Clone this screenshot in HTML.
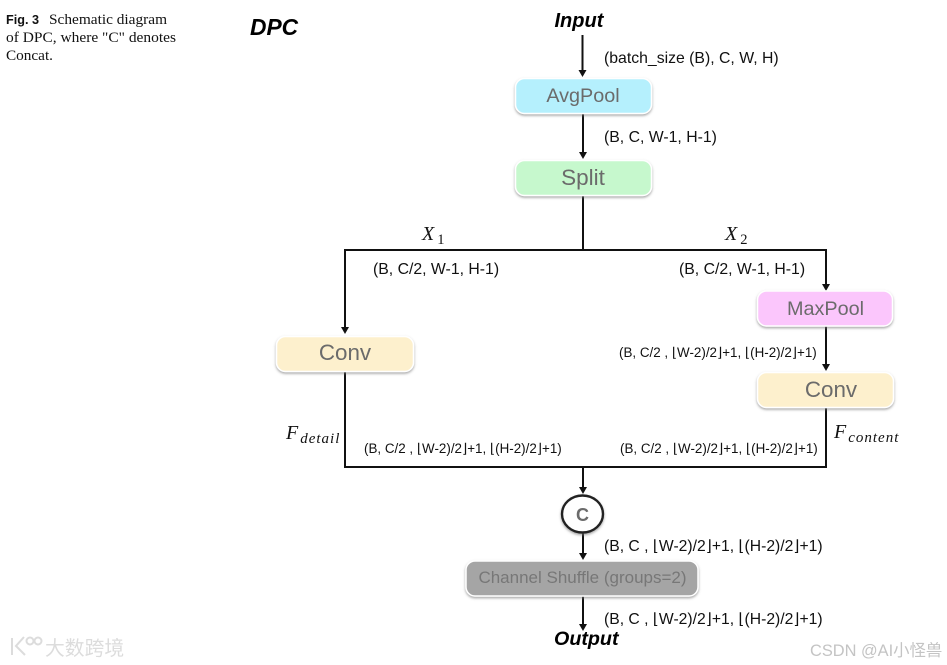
<!DOCTYPE html>
<html>
<head>
<meta charset="utf-8">
<style>
html,body{margin:0;padding:0;background:#fff;width:947px;height:665px;overflow:hidden}
svg{display:block}
text{font-family:"Liberation Sans",sans-serif;fill:#111}
.s{font-family:"Liberation Serif",serif}
.box{stroke:#fff;stroke-width:1.5}
.lab{fill:#6b6b6b}
.ln{stroke:#111;stroke-width:2;fill:none}
.it{font-family:"Liberation Serif",serif;font-style:italic;fill:#111}
.bi{font-weight:bold;font-style:italic;fill:#000}
</style>
</head>
<body>
<svg width="947" height="665" viewBox="0 0 947 665" xmlns="http://www.w3.org/2000/svg">
<defs>
<filter id="sh" x="-10%" y="-20%" width="120%" height="150%">
<feDropShadow dx="0" dy="1.5" stdDeviation="1.2" flood-color="#777" flood-opacity="0.65"/>
</filter>
</defs>
<rect width="947" height="665" fill="#fff"/>

<!-- caption -->
<text x="6" y="24" font-size="13" font-weight="bold" textLength="33" lengthAdjust="spacingAndGlyphs">Fig. 3</text>
<text class="s" x="49" y="24" font-size="14.2" textLength="118" lengthAdjust="spacingAndGlyphs">Schematic diagram</text>
<text class="s" x="6" y="42" font-size="14.2" textLength="170" lengthAdjust="spacingAndGlyphs">of DPC, where "C" denotes</text>
<text class="s" x="6" y="60" font-size="14.2" textLength="47" lengthAdjust="spacingAndGlyphs">Concat.</text>
<text class="bi" x="250" y="35" font-size="22.8">DPC</text>

<!-- connectors -->
<g class="ln">
<path d="M582.5 35V71"/>
<path d="M583 113V153"/>
<path d="M583 196V250"/>
<path d="M345 328V250H826V285"/>
<path d="M826 326V365"/>
<path d="M345 372V467H826V407"/>
<path d="M583 467V489"/>
<path d="M583 533V554"/>
<path d="M583 596V625"/>
</g>
<g fill="#111">
<path d="M578.5 70h8l-4 7z"/>
<path d="M579 152h8l-4 7z"/>
<path d="M341 327h8l-4 7z"/>
<path d="M822 284h8l-4 7z"/>
<path d="M822 364h8l-4 7z"/>
<path d="M579 487h8l-4 7z"/>
<path d="M579 553h8l-4 7z"/>
<path d="M579 624h8l-4 7z"/>
</g>

<!-- nodes -->
<g filter="url(#sh)">
<rect class="box" x="515.5" y="78.5" width="136" height="35" rx="9" fill="#b5f0fd"/>
<rect class="box" x="515.5" y="160.5" width="136" height="35" rx="9" fill="#c6f8cd"/>
<rect class="box" x="276.5" y="336.5" width="137" height="35" rx="9" fill="#fdf0cd"/>
<rect class="box" x="757.5" y="291" width="135" height="35" rx="9" fill="#fbc6fc"/>
<rect class="box" x="757.5" y="372.5" width="136" height="35" rx="9" fill="#fdf0cd"/>
<rect class="box" x="466" y="561" width="232" height="35" rx="9" fill="#a5a5a5"/>
</g>
<ellipse cx="582.5" cy="514" rx="20.5" ry="18.5" fill="#fff" stroke="#222" stroke-width="2.4" filter="url(#sh)"/>

<!-- node labels -->
<g text-anchor="middle">
<text class="lab" x="583" y="102" font-size="19.8">AvgPool</text>
<text class="lab" x="583" y="185" font-size="22.5">Split</text>
<text class="lab" x="345" y="360" font-size="22.4">Conv</text>
<text class="lab" x="825.5" y="315" font-size="19.8">MaxPool</text>
<text class="lab" x="831" y="397" font-size="22.4">Conv</text>
<text class="lab" x="582.5" y="583" font-size="17" style="fill:#777">Channel Shuffle (groups=2)</text>
<text class="lab" x="582.5" y="521" font-size="18" font-weight="bold">C</text>
</g>

<!-- terminals -->
<text class="bi" x="554.5" y="27" font-size="20">Input</text>
<text class="bi" x="554" y="645" font-size="19.7">Output</text>

<!-- tensor shapes -->
<text x="604" y="63" font-size="15.8">(batch_size (B), C, W, H)</text>
<text x="604" y="142" font-size="15.8">(B, C, W-1, H-1)</text>
<text x="373" y="274" font-size="15.8">(B, C/2, W-1, H-1)</text>
<text x="679" y="274" font-size="15.8">(B, C/2, W-1, H-1)</text>
<text x="619" y="357" font-size="13.4">(B, C/2 , ⌊W-2)/2⌋+1, ⌊(H-2)/2⌋+1)</text>
<text x="364" y="453" font-size="13.4">(B, C/2 , ⌊W-2)/2⌋+1, ⌊(H-2)/2⌋+1)</text>
<text x="620" y="453" font-size="13.4">(B, C/2 , ⌊W-2)/2⌋+1, ⌊(H-2)/2⌋+1)</text>
<text x="604" y="551" font-size="15.7">(B, C , ⌊W-2)/2⌋+1, ⌊(H-2)/2⌋+1)</text>
<text x="604" y="624" font-size="15.7">(B, C , ⌊W-2)/2⌋+1, ⌊(H-2)/2⌋+1)</text>

<!-- math labels -->
<text class="it" x="422" y="240" font-size="20">X<tspan font-size="14.5" dy="4" dx="3" style="font-style:normal">1</tspan></text>
<text class="it" x="725" y="240" font-size="20">X<tspan font-size="14.5" dy="4" dx="3" style="font-style:normal">2</tspan></text>
<text class="it" x="286" y="439" font-size="20">F<tspan font-size="15" dy="4" dx="2" letter-spacing="1">detail</tspan></text>
<text class="it" x="834" y="438" font-size="20">F<tspan font-size="15" dy="4" dx="2" letter-spacing="1">content</tspan></text>

<!-- watermarks -->
<g fill="none" stroke="#dcdcdc" stroke-width="2">
<path d="M12 638v17M24 637l-8 9 9 9"/>
<circle cx="30" cy="641" r="3.5"/>
<circle cx="38" cy="641" r="3.5"/>
</g>
<text x="45" y="655" font-size="19.8" style="font-family:'Liberation Sans','Noto Sans CJK SC',sans-serif;fill:#dcdcdc">大数跨境</text>
<text x="810" y="656" font-size="16.4" style="font-family:'Liberation Sans','Noto Sans CJK SC',sans-serif;fill:#c4c4c4">CSDN @AI小怪兽</text>
</svg>
</body>
</html>
